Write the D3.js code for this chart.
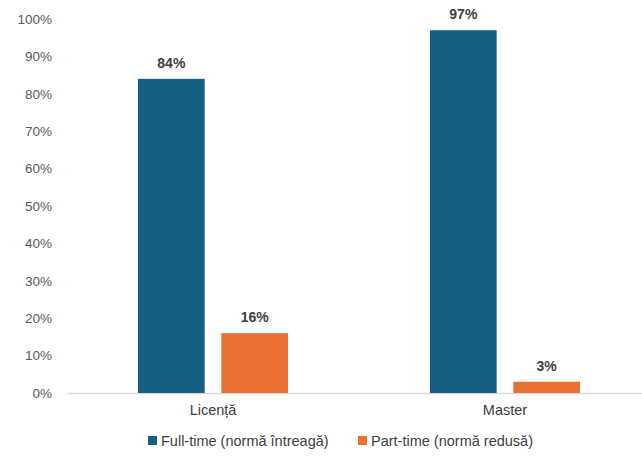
<!DOCTYPE html>
<html><head><meta charset="utf-8">
<script src="https://cdn.jsdelivr.net/npm/d3@7"></script>
<style>body{margin:0;background:#fff}svg{display:block;font-family:"Liberation Sans",Arial,sans-serif}</style>
</head><body><svg id="c" width="642" height="459"></svg>
<script>
const categories = ["Licență", "Master"];
const seriesNames = ["Full-time (normă întreagă)", "Part-time (normă redusă)"];
const fullTime = [84, 97];
const partTime = [16, 3];
const yTicks = [0,10,20,30,40,50,60,70,80,90,100];
const colors = ["#156082", "#E97132"];

const svg = d3.select("#c");
const x = d3.scaleBand().domain(categories).range([67, 651]).paddingInner(0).paddingOuter(0);
const y = d3.scaleLinear().domain([0,100]).range([393, 19]);
const x1 = d3.scaleBand().domain([0,1]).range([-75, 75]).paddingInner(0.2);

// y axis labels
const ya = svg.append("g").attr("transform","translate(52,0)")
  .call(d3.axisLeft(y).tickValues(yTicks).tickFormat(d=>d+"%").tickSize(0).tickPadding(0));
ya.select(".domain").remove();
ya.selectAll("text").attr("fill","#595959").style("font-size","13.5px").style("font-family","Liberation Sans, Arial, sans-serif");

// x axis
const xa = svg.append("g").attr("transform","translate(0,393)")
  .call(d3.axisBottom(x).tickSize(0).tickPadding(12));
xa.select(".domain").attr("stroke","#d9d9d9").attr("stroke-width",1.5);
xa.selectAll("text").attr("fill","#404040").style("font-size","14.5px").style("font-family","Liberation Sans, Arial, sans-serif");

const data = [fullTime, partTime];
data.forEach((vals, si) => {
  const g = svg.append("g");
  g.selectAll("rect").data(vals).join("rect")
    .attr("x", (d,i)=> x(categories[i]) + x.bandwidth()/2 + x1(si))
    .attr("width", x1.bandwidth())
    .attr("y", d=>y(d))
    .attr("height", d=>y(0)-y(d))
    .attr("fill", colors[si]);
  g.selectAll("text").data(vals).join("text")
    .attr("x", (d,i)=> x(categories[i]) + x.bandwidth()/2 + x1(si) + x1.bandwidth()/2)
    .attr("y", d=>y(d)-11)
    .attr("text-anchor","middle")
    .attr("fill","#404040")
    .style("font-size","14px").style("font-weight","bold")
    .text(d=>d+"%");
});

// legend
const legX = [148, 358];
seriesNames.forEach((n,i)=>{
  svg.append("rect").attr("x",legX[i]).attr("y",436).attr("width",9).attr("height",9).attr("fill",colors[i]);
  svg.append("text").attr("x",legX[i]+13).attr("y",446).attr("fill","#404040")
    .style("font-size","14.5px").text(n);
});
</script></body></html>
